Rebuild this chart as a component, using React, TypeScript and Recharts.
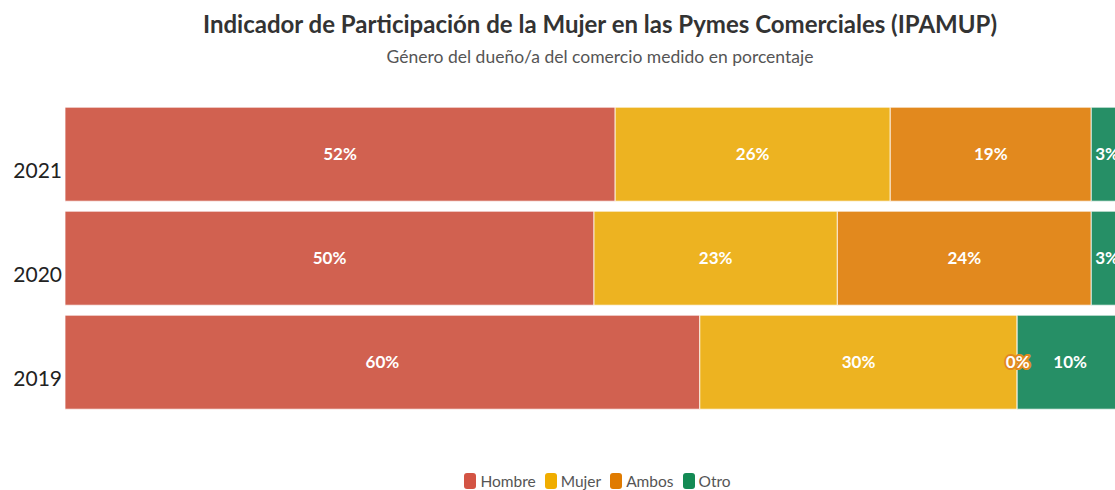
import React from 'react';
import { BarChart, Bar, XAxis, YAxis, LabelList } from 'recharts';

const years = ['2021', '2020', '2019'];
const hombre = [52, 50, 60];
const mujer = [26, 23, 30];
const ambos = [19, 24, 0];
const otro = [3, 3, 10];

const series = [
  { key: 'Hombre', color: '#d16150', legend: '#d35444' },
  { key: 'Mujer', color: '#edb321', legend: '#f0ad00' },
  { key: 'Ambos', color: '#e2891e', legend: '#e07b00' },
  { key: 'Otro', color: '#268f66', legend: '#138a54' },
];

const data = years.map((y, i) => ({
  year: y,
  Hombre: hombre[i],
  Mujer: mujer[i],
  Ambos: ambos[i],
  Otro: otro[i],
}));

const FONT = 'Lato, "Noto Sans", sans-serif';

const YearTick = (props: any) => {
  const { x, y, payload } = props;
  return (
    <text x={x + 8} y={y + 24} textAnchor="end" fontSize={21} fill="#222" fontFamily={FONT}>
      {payload.value}
    </text>
  );
};

const makeLabel = (halo: string) => (props: any) => {
  const { x, y, width, height, value } = props;
  return (
    <text
      x={x + width / 2}
      y={y + height / 2 + 1}
      textAnchor="middle"
      dominantBaseline="middle"
      fontSize={17}
      fontWeight={700}
      fill="#fff"
      stroke={halo}
      strokeWidth={4}
      strokeLinejoin="round"
      paintOrder="stroke"
      fontFamily={FONT}
    >
      {`${value}%`}
    </text>
  );
};

export default function App() {
  return (
    <div style={{ position: 'absolute', left: 0, top: 0, width: 1200, height: 490, fontFamily: FONT }}>
      <div style={{ position: 'absolute', top: 9, left: 0, width: 1200, textAlign: 'center', fontSize: 24, fontWeight: 700, color: '#333' }}>
        Indicador de Participación de la Mujer en las Pymes Comerciales (IPAMUP)
      </div>
      <div style={{ position: 'absolute', top: 46, left: 0, width: 1200, textAlign: 'center', fontSize: 17.5, color: '#555' }}>
        Género del dueño/a del comercio medido en porcentaje
      </div>
      <BarChart
        width={1200}
        height={490}
        data={data}
        layout="vertical"
        barCategoryGap="5%"
        margin={{ top: 102, right: 77, bottom: 76, left: 0 }}
      >
        <XAxis type="number" domain={[0, 100]} hide />
        <YAxis
          type="category"
          dataKey="year"
          width={65}
          axisLine={false}
          tickLine={false}
          tick={<YearTick />}
          tickMargin={5}
        />
        {series.map((s) => (
          <Bar
            key={s.key}
            dataKey={s.key}
            stackId="a"
            fill={s.color}
            stroke="rgba(255,255,255,0.75)"
            strokeWidth={1}
            minPointSize={s.key === 'Ambos' ? 1 : 0}
            isAnimationActive={false}
          >
            <LabelList dataKey={s.key} content={makeLabel(s.color)} />
          </Bar>
        ))}
      </BarChart>
      <div
        style={{
          position: 'absolute',
          top: 472,
          left: 0,
          width: 1195,
          display: 'flex',
          justifyContent: 'center',
          gap: 9,
          fontSize: 15.5,
          color: '#555',
        }}
      >
        {series.map((s) => (
          <div key={s.key} style={{ display: 'flex', alignItems: 'center', gap: 4 }}>
            <span style={{ width: 12, height: 16, borderRadius: 3, background: s.legend, display: 'inline-block' }} />
            <span>{s.key}</span>
          </div>
        ))}
      </div>
    </div>
  );
}
